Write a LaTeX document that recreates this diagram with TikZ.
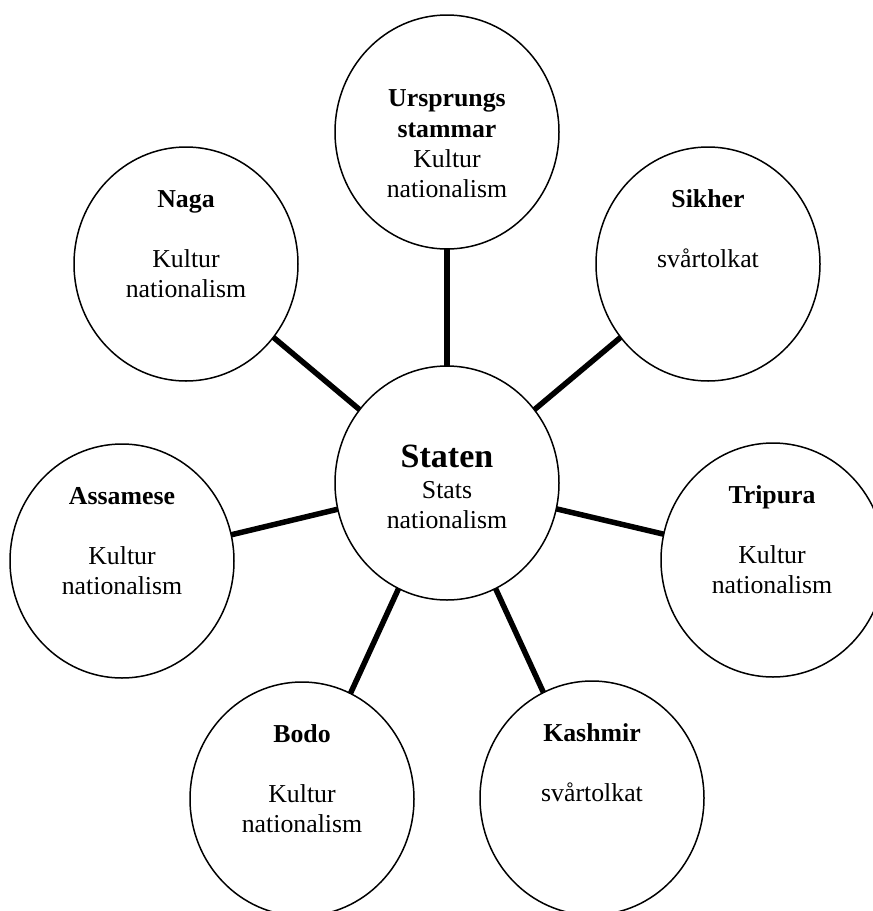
\documentclass[tikz,border=0pt]{standalone}
\usepackage{fontspec}
\setmainfont{Liberation Serif}
\usetikzlibrary{shapes.geometric}
\begin{document}
\begin{tikzpicture}[x=1pt,y=-1pt,
  bub/.style={draw, ellipse, line width=1.5pt, minimum width=224pt, minimum height=234pt, inner sep=0pt, outer sep=0pt},
  conn/.style={line width=5.5pt},
  txt/.style={anchor=base, inner sep=0pt, font=\fontsize{25.8}{30}\selectfont},
  ttl/.style={anchor=base, inner sep=0pt, font=\fontsize{25.8}{30}\selectfont\bfseries},
  bigttl/.style={anchor=base, inner sep=0pt, font=\fontsize{34}{40}\selectfont\bfseries}]
\useasboundingbox (0,0) rectangle (873,911);
\clip (0,0) rectangle (873,911);
% circles
\node[bub] (staten) at (447,483) {};
\node[bub] (urs) at (447,132) {};
\node[bub] (naga) at (186,264) {};
\node[bub] (sikher) at (708,264) {};
\node[bub] (assam) at (122,561) {};
\node[bub] (tripura) at (773,560) {};
\node[bub] (bodo) at (302,799) {};
\node[bub] (kashmir) at (592,798) {};
% connectors
\draw[conn] (staten) -- (urs);
\draw[conn] (staten) -- (naga);
\draw[conn] (staten) -- (sikher);
\draw[conn] (staten) -- (assam);
\draw[conn] (staten) -- (tripura);
\draw[conn] (staten) -- (bodo);
\draw[conn] (staten) -- (kashmir);
% texts
\node[bigttl] (st1) at (447,467) {Staten};
\node[txt] (st2) at (447,498) {Stats};
\node[txt] (st3) at (447,528) {nationalism};
\node[ttl] (ur1) at (447,106) {Ursprungs};
\node[ttl] (ur2) at (447,137) {stammar};
\node[txt] (ur3) at (447,167) {Kultur};
\node[txt] (ur4) at (447,197) {nationalism};
\node[ttl] (na1) at (186,207) {Naga};
\node[txt] (na2) at (186,267) {Kultur};
\node[txt] (na3) at (186,297) {nationalism};
\node[ttl] (si1) at (708,207) {Sikher};
\node[txt] (si2) at (708,267) {svårtolkat};
\node[ttl] (as1) at (122,504) {Assamese};
\node[txt] (as2) at (122,564) {Kultur};
\node[txt] (as3) at (122,594) {nationalism};
\node[ttl] (tr1) at (772,503) {Tripura};
\node[txt] (tr2) at (772,563) {Kultur};
\node[txt] (tr3) at (772,593) {nationalism};
\node[ttl] (bo1) at (302,742) {Bodo};
\node[txt] (bo2) at (302,802) {Kultur};
\node[txt] (bo3) at (302,832) {nationalism};
\node[ttl] (ka1) at (592,741) {Kashmir};
\node[txt] (ka2) at (592,801) {svårtolkat};
\end{tikzpicture}
\end{document}
